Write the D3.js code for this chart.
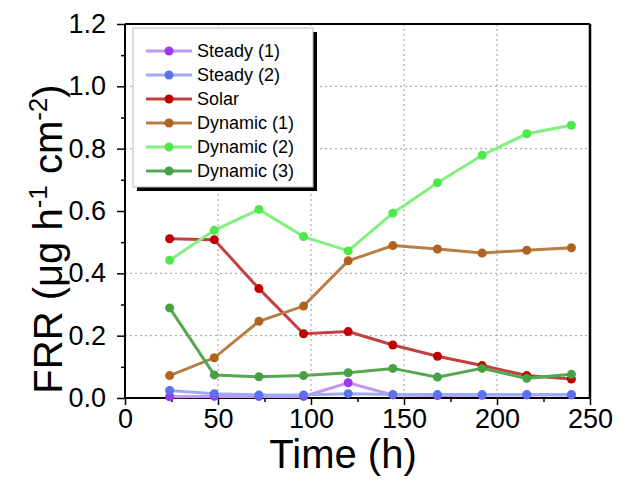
<!DOCTYPE html>
<html>
<head>
<meta charset="utf-8">
<script src="https://cdn.jsdelivr.net/npm/d3@7"></script>
<style>
  body { margin: 0; background: #fff; }
  svg { font-family: "Liberation Sans", Arial, sans-serif; }
</style>
</head>
<body>
<div id="chart"></div>
<script>
// data
var hours = [24, 48, 72, 96, 120, 144, 168, 192, 216, 240];
var steady1 = [0.004, 0.005, 0.005, 0.005, 0.049, 0.010, 0.008, 0.009, 0.010, 0.010];
var steady2 = [0.024, 0.014, 0.010, 0.010, 0.014, 0.011, 0.011, 0.011, 0.011, 0.011];
var solar = [0.511, 0.508, 0.351, 0.206, 0.213, 0.170, 0.134, 0.104, 0.072, 0.061];
var dynamic1 = [0.072, 0.129, 0.246, 0.295, 0.440, 0.489, 0.478, 0.465, 0.474, 0.482];
var dynamic2 = [0.442, 0.538, 0.605, 0.518, 0.472, 0.593, 0.691, 0.779, 0.848, 0.875];
var dynamic3 = [0.289, 0.074, 0.068, 0.072, 0.081, 0.095, 0.067, 0.095, 0.063, 0.076];

var seriesNames = ["Steady (1)", "Steady (2)", "Solar", "Dynamic (1)", "Dynamic (2)", "Dynamic (3)"];
var seriesValues = [steady1, steady2, solar, dynamic1, dynamic2, dynamic3];
var lineColors = ["#c495f2", "#9dabf4", "#c2403f", "#b97d45", "#82f07e", "#55a852"];
var dotColors = ["#9b3ae6", "#5d70ee", "#c00000", "#b2621f", "#4fe84b", "#47a044"];

var xTicks = [0, 50, 100, 150, 200, 250];
var yTicks = [0, 0.2, 0.4, 0.6, 0.8, 1.0, 1.2];
var xGrid = [50, 100, 150, 200];
var yGrid = [0.2, 0.4, 0.8, 1.0];

var pLeft = 125, pRight = 590, pTop = 24, pBottom = 398;

var svg = d3.select("#chart")
  .append("svg")
  .attr("width", 622).attr("height", 492);

var x = d3.scaleLinear().domain([0, 250]).range([pLeft, pRight]);
var y = d3.scaleLinear().domain([0, 1.2]).range([pBottom, pTop]);

//grid
svg.append("g").selectAll("line")
  .data(xGrid).enter().append("line")
  .attr("x1", function(d) { return x(d); }).attr("x2", function(d) { return x(d); })
  .attr("y1", pTop).attr("y2", pBottom)
  .attr("stroke", "#9a9a9a").attr("stroke-width", 1)
  .attr("stroke-dasharray", "2,3");

svg.append("g").selectAll("line")
  .data(yGrid).enter().append("line")
  .attr("x1", pLeft).attr("x2", pRight)
  .attr("y1", function(d) { return y(d); }).attr("y2", function(d) { return y(d); })
  .attr("stroke", "#9a9a9a").attr("stroke-width", 1)
  .attr("stroke-dasharray", "2,3");

//frame top / right
svg.append("line")
  .attr("x1", pLeft).attr("x2", pRight).attr("y1", pTop).attr("y2", pTop)
  .attr("stroke", "#000").attr("stroke-width", 2);
svg.append("line")
  .attr("x1", pRight).attr("x2", pRight).attr("y1", pTop).attr("y2", pBottom)
  .attr("stroke", "#000").attr("stroke-width", 2.5);

//axes
var xAxis = svg.append("g")
  .attr("transform", "translate(0," + pBottom + ")")
  .call(d3.axisBottom(x).tickValues(xTicks).tickSize(7).tickFormat(d3.format("d")));
svg.append("g")
  .attr("transform", "translate(0," + pBottom + ")")
  .call(d3.axisBottom(x).tickValues([25, 75, 125, 175, 225]).tickSize(4).tickFormat(""))
  .select(".domain").remove();

var yAxis = svg.append("g")
  .attr("transform", "translate(" + pLeft + ",0)")
  .call(d3.axisLeft(y).tickValues(yTicks).tickSize(8).tickFormat(d3.format(".1f")));
svg.append("g")
  .attr("transform", "translate(" + pLeft + ",0)")
  .call(d3.axisLeft(y).tickValues([0.1, 0.3, 0.5, 0.7, 0.9, 1.1]).tickSize(4).tickFormat(""))
  .select(".domain").remove();

svg.selectAll(".domain").attr("stroke", "#000").attr("stroke-width", 2);
svg.selectAll(".tick line").attr("stroke", "#000").attr("stroke-width", 1.5);
xAxis.select(".domain").attr("d", "M" + pLeft + ",0H" + pRight);
yAxis.select(".domain").attr("d", "M0," + pBottom + "V" + pTop);

xAxis.selectAll("text")
  .attr("font-size", 27).attr("fill", "#000")
  .attr("y", 11).attr("dy", "0.71em");
yAxis.selectAll("text")
  .attr("font-size", 27).attr("fill", "#000")
  .attr("x", -19);

//series
var line = d3.line()
  .x(function(d, i) { return x(hours[i]); })
  .y(function(d) { return y(d); });

seriesValues.forEach(function(vals, k) {
  var g = svg.append("g").attr("class", "series");
  g.append("path")
    .attr("d", line(vals))
    .attr("fill", "none")
    .attr("stroke", lineColors[k])
    .attr("stroke-width", 3);
  g.selectAll("circle")
    .data(vals).enter().append("circle")
    .attr("cx", function(d, i) { return x(hours[i]); })
    .attr("cy", function(d) { return y(d); })
    .attr("r", 4.5)
    .attr("fill", dotColors[k]);
});

//legend
var lg = svg.append("g");
lg.append("rect")
  .attr("x", 137).attr("y", 32).attr("width", 180).attr("height", 159)
  .attr("fill", "#000");
lg.append("rect")
  .attr("x", 133).attr("y", 28).attr("width", 180).attr("height", 159)
  .attr("fill", "#fff").attr("stroke", "#bbb").attr("stroke-width", 1);

seriesNames.forEach(function(name, k) {
  var ly = 51 + k * 24;
  lg.append("line")
    .attr("x1", 146).attr("x2", 192).attr("y1", ly).attr("y2", ly)
    .attr("stroke", lineColors[k]).attr("stroke-width", 3);
  lg.append("circle")
    .attr("cx", 169).attr("cy", ly).attr("r", 4.5)
    .attr("fill", dotColors[k]);
  lg.append("text")
    .attr("x", 197).attr("y", ly).attr("dy", "0.35em")
    .attr("font-size", 18).attr("fill", "#000")
    .text(name);
});

//axis titles
svg.append("text")
  .attr("x", 343).attr("y", 468)
  .attr("text-anchor", "middle")
  .attr("font-size", 40).attr("fill", "#000")
  .text("Time (h)");

var yt = svg.append("text")
  .attr("transform", "translate(62,239) rotate(-90)")
  .attr("text-anchor", "middle")
  .attr("font-size", 40).attr("fill", "#000");
yt.append("tspan").text("FRR (\u03bcg h");
yt.append("tspan").attr("font-size", 26).attr("dy", -15).text("-1");
yt.append("tspan").attr("dy", 15).text(" cm");
yt.append("tspan").attr("font-size", 26).attr("dy", -15).text("-2");
yt.append("tspan").attr("dy", 15).text(")");
</script>
</body>
</html>
